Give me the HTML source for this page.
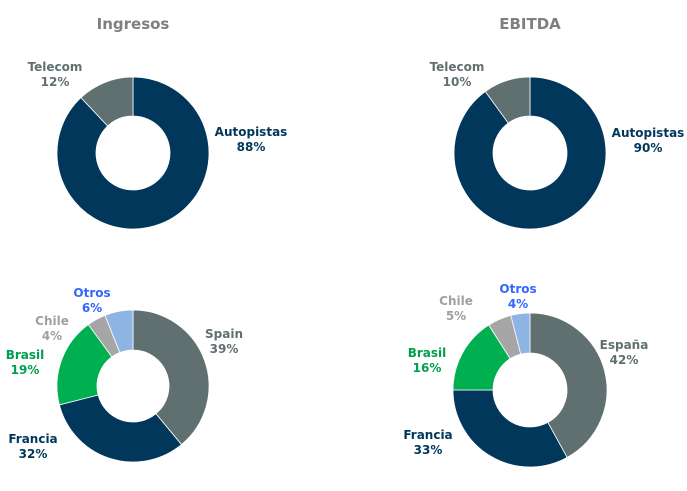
<!DOCTYPE html>
<html><head><meta charset="utf-8"><style>
body{margin:0;background:#fff;width:687px;height:486px;overflow:hidden}
svg text{font-family:"DejaVu Sans","Liberation Sans",sans-serif;font-weight:bold;font-size:12px;text-anchor:middle}
</style></head><body>
<svg id="c" width="687" height="486">
<text x="133" y="29" font-size="15" fill="#7f7f7f" style="font-size:15px">Ingresos</text>
<text x="530" y="29" fill="#7f7f7f" style="font-size:15px">EBITDA</text>
</svg>
<script>
const d1Labels=["Autopistas","Telecom"];const d1Values=[88,12];
const d2Labels=["Autopistas","Telecom"];const d2Values=[90,10];
const d3Labels=["Spain","Francia","Brasil","Chile","Otros"];const d3Values=[39,32,19,4,6];
const d4Labels=["España","Francia","Brasil","Chile","Otros"];const d4Values=[42,33,16,5,4];
const colA=["#00375a","#607070"];
const colB=["#607070","#00375a","#00b050","#a6a6a6","#8db4e2"];
const txtA=["#00375a","#607070"];
const txtB=["#607070","#00375a","#00a050","#a0a0a0","#3366ff"];
const svg=document.getElementById('c');const NS="http://www.w3.org/2000/svg";
function donut(cx,cy,R,r,labels,values,cols,tcols,lpos,name){
 const tot=values.reduce((a,b)=>a+b,0);let a0=0;
 values.forEach((v,i)=>{
  const a1=a0+v/tot*2*Math.PI;
  const p=(a,rr)=>[cx+rr*Math.sin(a),cy-rr*Math.cos(a)];
  const [x0,y0]=p(a0,R),[x1,y1]=p(a1,R),[x2,y2]=p(a1,r),[x3,y3]=p(a0,r);
  const lg=(a1-a0)>Math.PI?1:0;
  const el=document.createElementNS(NS,'path');
  el.setAttribute('d',`M${x0},${y0}A${R},${R} 0 ${lg} 1 ${x1},${y1}L${x2},${y2}A${r},${r} 0 ${lg} 0 ${x3},${y3}Z`);
  el.setAttribute('fill',cols[i]);el.setAttribute('stroke','#fff');el.setAttribute('stroke-width','0.8');
  
  
  svg.appendChild(el);
  const [lx,ly]=lpos[i];
  const t=document.createElementNS(NS,'text');
  t.setAttribute('x',lx);t.setAttribute('y',ly);t.setAttribute('fill',tcols[i]);
  
  
  const s1=document.createElementNS(NS,'tspan');s1.setAttribute('x',lx);s1.textContent=labels[i];
  const s2=document.createElementNS(NS,'tspan');s2.setAttribute('x',lx);s2.setAttribute('dy','15');s2.textContent=v+'%';
  t.appendChild(s1);t.appendChild(s2);svg.appendChild(t);
  a0=a1;
 });
}
donut(133,153,76,37,d1Labels,d1Values,colA,txtA,[[251,136],[55,71]],'ingresos-segment');
donut(530,153,76,37,d2Labels,d2Values,colA,txtA,[[648,137],[457,71]],'ebitda-segment');
donut(133,386,76,36,d3Labels,d3Values,colB,txtB,[[224,338],[33,443],[25,359],[52,325],[92,297]],'ingresos-country');
donut(530,390,77,37,d4Labels,d4Values,colB,txtB,[[624,349],[428,439],[427,357],[456,305],[518,293]],'ebitda-country');
</script>
</body></html>
